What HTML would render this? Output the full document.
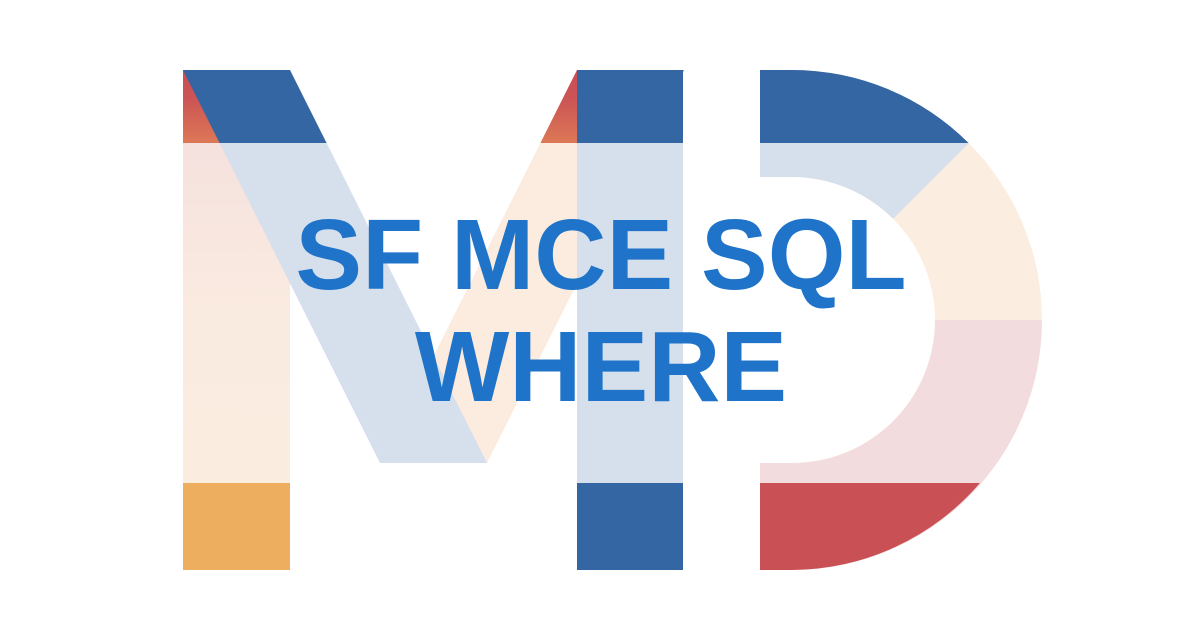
<!DOCTYPE html>
<html><head><meta charset="utf-8"><style>
html,body{margin:0;padding:0;background:#fff;}
svg{display:block;}
</style></head><body>
<svg width="1200" height="627" viewBox="0 0 1200 627" xmlns="http://www.w3.org/2000/svg">
<defs>
<linearGradient id="rg" gradientUnits="userSpaceOnUse" x1="0" y1="70" x2="0" y2="143">
<stop offset="0" stop-color="#C94C54"/><stop offset="0.4" stop-color="#CC5555"/><stop offset="1" stop-color="#DC7856"/>
</linearGradient>
<linearGradient id="pg" gradientUnits="userSpaceOnUse" x1="0" y1="143" x2="0" y2="483">
<stop offset="0" stop-color="#F5E1DE"/><stop offset="0.5" stop-color="#FAEBE0"/><stop offset="1" stop-color="#FBECE0"/>
</linearGradient>
<clipPath id="topc"><rect x="0" y="70" width="1200" height="73"/></clipPath>
<clipPath id="midc"><rect x="0" y="143" width="1200" height="400"/></clipPath>
<clipPath id="dtop"><rect x="760" y="60" width="300" height="83"/></clipPath>
</defs>
<rect width="1200" height="627" fill="#fff"/>
<rect x="183" y="70" width="107" height="73" fill="url(#rg)"/>
<rect x="183" y="143" width="107" height="340" fill="url(#pg)"/>
<rect x="183" y="483" width="107" height="87" fill="#EEAE60"/>
<polygon points="577,70 684,70 487,463 380,463" fill="#FBECDF" clip-path="url(#midc)"/>
<polygon points="577,70 684,70 487,463 380,463" fill="url(#rg)" clip-path="url(#topc)"/>
<polygon points="183,70 290,70 487,463 380,463" fill="#D6DFEC" clip-path="url(#midc)"/>
<polygon points="183,70 290,70 487,463 380,463" fill="#3366A2" clip-path="url(#topc)"/>
<rect x="577" y="70" width="106" height="73" fill="#3366A2"/>
<rect x="577" y="143" width="106" height="340" fill="#D6DFEC"/>
<rect x="577" y="483" width="106" height="87" fill="#3366A2"/>
<path d="M760,70 L792,70 A250,250 0 0 1 1042,320 L935,320 A143,143 0 0 0 792,177 L760,177 Z" fill="#FBEDE0"/>
<path d="M760,70 L792,70 A250,250 0 0 1 968.8,143.2 L893.1,218.9 A143,143 0 0 0 792,177 L760,177 Z" fill="#D6DFEC"/>
<path d="M760,70 L792,70 A250,250 0 0 1 1042,320 L935,320 A143,143 0 0 0 792,177 L760,177 Z" fill="#3366A2" clip-path="url(#dtop)"/>
<path d="M760,570 L792,570 A250,250 0 0 0 1042,320 L935,320 A143,143 0 0 1 792,463 L760,463 Z" fill="#F3DCDD"/>
<path d="M760,483 L980,483 A250,250 0 0 1 792,570 L760,570 Z" fill="#C95156"/>
<g font-family="'Liberation Sans', Arial, sans-serif" font-weight="bold" font-size="100" fill="#1F74C9" text-anchor="middle">
<text x="601" y="289">SF MCE SQL</text>
<text x="601" y="401">WHERE</text>
</g>
</svg>
</body></html>
